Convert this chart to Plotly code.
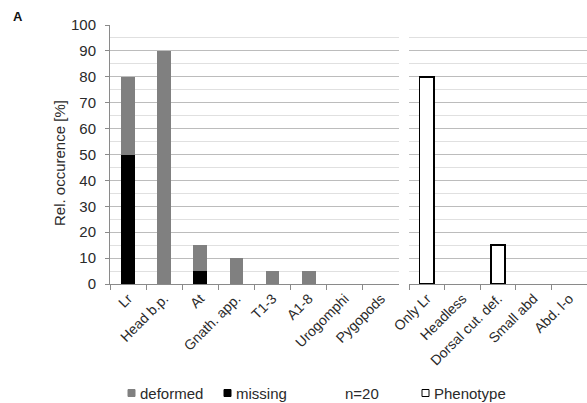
import plotly.graph_objects as go

W, H = 587, 403

body_parts = ["Lr", "Head b.p.", "At", "Gnath. app.", "T1-3", "A1-8", "Urogomphi", "Pygopods"]
missing = [50, 0, 5, 0, 0, 0, 0, 0]
deformed = [30, 90, 10, 10, 5, 5, 0, 0]

phenotypes = ["Only Lr", "Headless", "Dorsal cut. def.", "Small abd", "Abd. l-o"]
phenotype_vals = [80, 0, 15, 0, 0]

y_ticks = list(range(0, 101, 10))

FONT = "Liberation Sans, Arial, sans-serif"
TXT = "#2a2a2a"
GRID = "#bcbcbc"
MINOR = "#e0e0e0"


def nz(vals):
    # empty categories draw no bar at all
    return [v if v else None for v in vals]


fig = go.Figure()
fig.add_trace(go.Bar(x=body_parts, y=nz(missing), marker=dict(color="#000000", line=dict(width=0)),
                     width=0.38, name="missing", xaxis="x", yaxis="y", showlegend=False))
fig.add_trace(go.Bar(x=body_parts, y=nz(deformed), marker=dict(color="#808080", line=dict(width=0)),
                     width=0.38, name="deformed", xaxis="x", yaxis="y", showlegend=False))
fig.add_trace(go.Bar(x=phenotypes, y=nz(phenotype_vals),
                     marker=dict(color="#ffffff", line=dict(color="#000000", width=1.5)),
                     width=0.4, name="Phenotype", xaxis="x2", yaxis="y2", showlegend=False))


def px_x(p):
    return p / W


def px_y(p):
    return 1 - p / H


yd = [px_y(284), px_y(25)]

axis_common = dict(
    showline=True, linecolor="#8a8a8a", linewidth=1,
    ticks="outside", tickson="boundaries", ticklen=5, tickcolor="#8a8a8a",
    tickangle=-45, tickfont=dict(family=FONT, size=14, color=TXT),
    showgrid=False, automargin=False, fixedrange=True,
)

fig.update_layout(
    width=W, height=H,
    margin=dict(l=0, r=0, t=0, b=0),
    paper_bgcolor="white", plot_bgcolor="white",
    barmode="stack",
    showlegend=False,
    xaxis=dict(domain=[px_x(110), px_x(399)], anchor="y", **axis_common),
    xaxis2=dict(domain=[px_x(409), 1.0], anchor="y2", **axis_common),
    yaxis=dict(domain=yd, anchor="x", range=[0, 100], tickvals=y_ticks,
               showline=True, linecolor="#8a8a8a", ticks="outside", ticklen=4, tickcolor="#8a8a8a",
               ticklabelstandoff=6,
               tickfont=dict(family=FONT, size=15, color=TXT),
               showgrid=True, gridcolor=GRID, gridwidth=1,
               minor=dict(dtick=5, tick0=0, showgrid=True, gridcolor=MINOR, gridwidth=1),
               zeroline=False, automargin=False, fixedrange=True),
    yaxis2=dict(domain=yd, anchor="x2", range=[0, 100], tickvals=y_ticks,
                showticklabels=False, showline=False, ticks="",
                showgrid=True, gridcolor=GRID, gridwidth=1,
                minor=dict(dtick=5, tick0=0, showgrid=True, gridcolor=MINOR, gridwidth=1),
                zeroline=False, automargin=False, fixedrange=True),
)

# y axis title
fig.add_annotation(text="Rel. occurence [%]", xref="paper", yref="paper",
                   x=px_x(60), y=px_y(163), textangle=-90, showarrow=False,
                   font=dict(family=FONT, size=15, color=TXT), xanchor="center", yanchor="middle")
# panel label
fig.add_annotation(text="<b>A</b>", xref="paper", yref="paper", x=px_x(11), y=px_y(17),
                   showarrow=False, font=dict(family=FONT, size=13, color="#111"),
                   xanchor="left", yanchor="middle")

# legend (swatches + labels)
leg_y = 393
legend_items = [
    ("deformed", 128, "#808080", "#808080"),
    ("missing", 224, "#000000", "#000000"),
    ("Phenotype", 422, "#ffffff", "#000000"),
]
for label, x0, fill, line in legend_items:
    fig.add_shape(type="rect", xref="paper", yref="paper",
                  x0=px_x(x0), x1=px_x(x0 + 7), y0=px_y(leg_y + 3.5), y1=px_y(leg_y - 3.5),
                  fillcolor=fill, line=dict(color=line, width=1))
    fig.add_annotation(text=label, xref="paper", yref="paper", x=px_x(x0 + 10), y=px_y(leg_y),
                       showarrow=False, xanchor="left", yanchor="middle",
                       font=dict(family=FONT, size=15, color=TXT))
fig.add_annotation(text="n=20", xref="paper", yref="paper", x=px_x(343), y=px_y(leg_y),
                   showarrow=False, xanchor="left", yanchor="middle",
                   font=dict(family=FONT, size=15, color=TXT))

fig.write_html("out.html", config={"displayModeBar": False},
               post_script="document.body.style.margin='0';")
